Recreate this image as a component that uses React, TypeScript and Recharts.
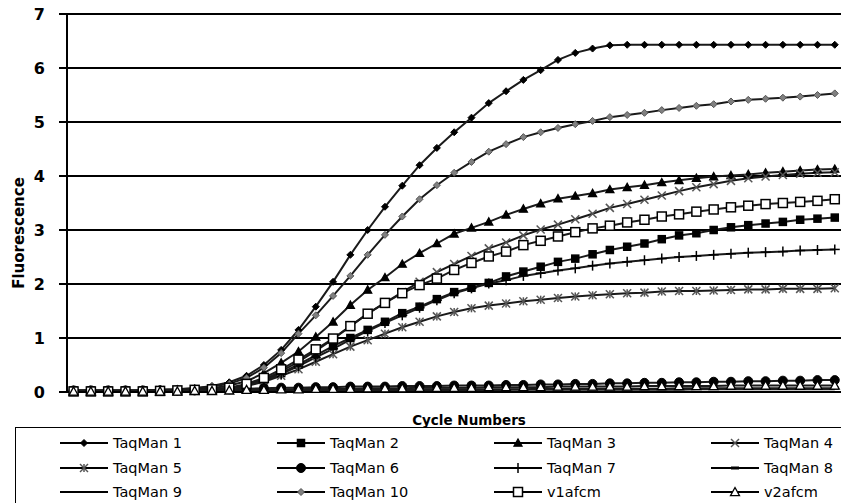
import { LineChart, Line, XAxis, YAxis, CartesianGrid } from "recharts";

const cycles = [
  1, 2, 3, 4, 5, 6, 7, 8, 9, 10, 11, 12, 13, 14, 15, 16, 17, 18, 19, 20, 21, 22, 23,
  24, 25, 26, 27, 28, 29, 30, 31, 32, 33, 34, 35, 36, 37, 38, 39, 40, 41, 42, 43, 44, 45,
];
const yTicks = [0, 1, 2, 3, 4, 5, 6, 7];

const taqman1 = [
  0.03, 0.03, 0.03, 0.03, 0.03, 0.04, 0.05, 0.07, 0.11, 0.18, 0.3, 0.5, 0.78, 1.15, 1.58,
  2.04, 2.54, 3.0, 3.43, 3.82, 4.2, 4.52, 4.81, 5.08, 5.35, 5.57, 5.78, 5.96, 6.15, 6.28,
  6.36, 6.42, 6.43, 6.43, 6.43, 6.43, 6.43, 6.43, 6.43, 6.43, 6.43, 6.43, 6.43, 6.43, 6.43,
];
const taqman2 = [
  0.03, 0.03, 0.03, 0.03, 0.03, 0.03, 0.03, 0.04, 0.05, 0.07, 0.13, 0.22, 0.35, 0.51, 0.68,
  0.85, 1.0, 1.15, 1.3, 1.46, 1.58, 1.72, 1.85, 1.93, 2.02, 2.14, 2.23, 2.32, 2.41, 2.47,
  2.55, 2.63, 2.69, 2.75, 2.83, 2.9, 2.94, 3.0, 3.05, 3.09, 3.12, 3.15, 3.19, 3.21, 3.23,
];
const taqman3 = [
  0.02, 0.02, 0.02, 0.02, 0.02, 0.03, 0.04, 0.05, 0.07, 0.12, 0.2, 0.35, 0.54, 0.75, 1.02,
  1.3, 1.61, 1.89, 2.12, 2.37, 2.57, 2.75, 2.93, 3.04, 3.15, 3.28, 3.39, 3.49, 3.58, 3.63,
  3.68, 3.75, 3.79, 3.83, 3.88, 3.92, 3.96, 3.99, 4.01, 4.03, 4.06, 4.08, 4.1, 4.12, 4.13,
];
const taqman4 = [
  0.02, 0.02, 0.02, 0.02, 0.02, 0.03, 0.03, 0.04, 0.05, 0.07, 0.13, 0.23, 0.38, 0.56, 0.76,
  0.98, 1.22, 1.45, 1.65, 1.85, 2.04, 2.22, 2.37, 2.52, 2.66, 2.77, 2.9, 3.01, 3.1, 3.2,
  3.3, 3.41, 3.48, 3.56, 3.64, 3.72, 3.79, 3.85, 3.91, 3.96, 3.99, 4.02, 4.04, 4.06, 4.07,
];
const taqman5 = [
  0.02, 0.02, 0.02, 0.02, 0.02, 0.03, 0.03, 0.04, 0.05, 0.06, 0.11, 0.19, 0.3, 0.42, 0.56,
  0.7, 0.84, 0.96, 1.08, 1.2, 1.3, 1.4, 1.48, 1.55, 1.6, 1.64, 1.68, 1.71, 1.74, 1.77,
  1.79, 1.81, 1.83, 1.84, 1.86, 1.87, 1.87, 1.88, 1.89, 1.9, 1.9, 1.91, 1.91, 1.91, 1.92,
];
const taqman6 = [
  0.03, 0.03, 0.03, 0.03, 0.03, 0.03, 0.03, 0.03, 0.04, 0.05, 0.06, 0.07, 0.08, 0.08, 0.09,
  0.09, 0.1, 0.1, 0.1, 0.11, 0.11, 0.11, 0.12, 0.12, 0.12, 0.13, 0.13, 0.14, 0.14, 0.15,
  0.15, 0.16, 0.16, 0.17, 0.17, 0.18, 0.18, 0.19, 0.19, 0.2, 0.2, 0.21, 0.21, 0.22, 0.22,
];
const taqman7 = [
  0.02, 0.02, 0.02, 0.02, 0.02, 0.03, 0.03, 0.04, 0.05, 0.07, 0.12, 0.21, 0.33, 0.48, 0.64,
  0.8, 0.97, 1.13, 1.28, 1.42, 1.56, 1.7, 1.83, 1.92, 2.01, 2.07, 2.15, 2.2, 2.25, 2.29,
  2.34, 2.38, 2.41, 2.44, 2.47, 2.5, 2.52, 2.54, 2.56, 2.58, 2.59, 2.6, 2.62, 2.63, 2.64,
];
const taqman8 = [
  0.02, 0.02, 0.02, 0.02, 0.02, 0.02, 0.02, 0.02, 0.02, 0.03, 0.03, 0.03, 0.03, 0.03, 0.04,
  0.04, 0.04, 0.04, 0.04, 0.04, 0.05, 0.05, 0.05, 0.05, 0.05, 0.05, 0.05, 0.06, 0.06, 0.06,
  0.06, 0.06, 0.06, 0.06, 0.06, 0.07, 0.07, 0.07, 0.07, 0.07, 0.07, 0.07, 0.07, 0.07, 0.07,
];
const taqman9 = [
  0.01, 0.01, 0.01, 0.01, 0.01, 0.01, 0.01, 0.01, 0.01, 0.02, 0.02, 0.02, 0.02, 0.02, 0.02,
  0.02, 0.03, 0.03, 0.03, 0.03, 0.03, 0.03, 0.03, 0.03, 0.03, 0.04, 0.04, 0.04, 0.04, 0.04,
  0.04, 0.04, 0.04, 0.04, 0.04, 0.04, 0.05, 0.05, 0.05, 0.05, 0.05, 0.05, 0.05, 0.05, 0.05,
];
const taqman10 = [
  0.03, 0.03, 0.03, 0.03, 0.03, 0.04, 0.05, 0.07, 0.1, 0.15, 0.26, 0.45, 0.72, 1.08, 1.42,
  1.78, 2.15, 2.54, 2.91, 3.25, 3.57, 3.83, 4.06, 4.26, 4.45, 4.59, 4.72, 4.81, 4.89, 4.96,
  5.02, 5.09, 5.13, 5.17, 5.22, 5.26, 5.3, 5.33, 5.38, 5.41, 5.43, 5.45, 5.47, 5.5, 5.53,
];
const v1afcm = [
  0.01, 0.01, 0.01, 0.01, 0.01, 0.02, 0.03, 0.04, 0.05, 0.08, 0.15, 0.26, 0.42, 0.6, 0.79,
  0.99, 1.22, 1.45, 1.65, 1.83, 1.98, 2.1, 2.26, 2.39, 2.51, 2.6, 2.72, 2.8, 2.88, 2.96,
  3.03, 3.08, 3.14, 3.19, 3.25, 3.29, 3.34, 3.38, 3.42, 3.45, 3.48, 3.5, 3.52, 3.54, 3.57,
];
const v2afcm = [
  0.01, 0.01, 0.01, 0.01, 0.01, 0.01, 0.01, 0.02, 0.02, 0.03, 0.04, 0.04, 0.05, 0.05, 0.06,
  0.06, 0.06, 0.07, 0.07, 0.07, 0.08, 0.08, 0.08, 0.08, 0.09, 0.09, 0.09, 0.09, 0.1, 0.1,
  0.1, 0.1, 0.1, 0.11, 0.11, 0.11, 0.11, 0.11, 0.12, 0.12, 0.12, 0.12, 0.12, 0.12, 0.12,
];

type Shape = "diamond" | "square" | "triangle" | "cross" | "star" | "circle" | "plus" | "dash" | "none";

interface Series {
  key: string;
  name: string;
  values: number[];
  shape: Shape;
  size: number;
  fill: string;
  stroke: string;
}

const series: Series[] = [
  { key: "t1", name: "TaqMan 1", values: taqman1, shape: "diamond", size: 7, fill: "#000", stroke: "#000" },
  { key: "t2", name: "TaqMan 2", values: taqman2, shape: "square", size: 7, fill: "#000", stroke: "#000" },
  { key: "t3", name: "TaqMan 3", values: taqman3, shape: "triangle", size: 8, fill: "#000", stroke: "#000" },
  { key: "t4", name: "TaqMan 4", values: taqman4, shape: "cross", size: 8, fill: "none", stroke: "#555" },
  { key: "t5", name: "TaqMan 5", values: taqman5, shape: "star", size: 8, fill: "none", stroke: "#555" },
  { key: "t6", name: "TaqMan 6", values: taqman6, shape: "circle", size: 9, fill: "#000", stroke: "#000" },
  { key: "t7", name: "TaqMan 7", values: taqman7, shape: "plus", size: 10, fill: "none", stroke: "#000" },
  { key: "t8", name: "TaqMan 8", values: taqman8, shape: "dash", size: 8, fill: "none", stroke: "#000" },
  { key: "t9", name: "TaqMan 9", values: taqman9, shape: "none", size: 0, fill: "none", stroke: "#000" },
  { key: "t10", name: "TaqMan 10", values: taqman10, shape: "diamond", size: 7, fill: "#808080", stroke: "#555" },
  { key: "v1", name: "v1afcm", values: v1afcm, shape: "square", size: 9, fill: "#fff", stroke: "#000" },
  { key: "v2", name: "v2afcm", values: v2afcm, shape: "triangle", size: 9, fill: "#fff", stroke: "#000" },
];

const data = cycles.map((c, i) => {
  const row: Record<string, number> = { cycle: c };
  series.forEach((s) => {
    row[s.key] = s.values[i];
  });
  return row;
});

function Marker({ shape, x, y, size, fill, stroke }: { shape: Shape; x: number; y: number; size: number; fill: string; stroke: string }) {
  const h = size / 2;
  switch (shape) {
    case "diamond":
      return <polygon points={`${x},${y - h} ${x + h},${y} ${x},${y + h} ${x - h},${y}`} fill={fill} stroke={stroke} strokeWidth={1} />;
    case "square":
      return <rect x={x - h} y={y - h} width={size} height={size} fill={fill} stroke={stroke} strokeWidth={1.5} />;
    case "triangle":
      return <polygon points={`${x},${y - h} ${x + h},${y + h * 0.8} ${x - h},${y + h * 0.8}`} fill={fill} stroke={stroke} strokeWidth={1.3} />;
    case "circle":
      return <circle cx={x} cy={y} r={h} fill={fill} stroke={stroke} />;
    case "cross":
      return (
        <g stroke={stroke} strokeWidth={1.5}>
          <line x1={x - h} y1={y - h} x2={x + h} y2={y + h} />
          <line x1={x - h} y1={y + h} x2={x + h} y2={y - h} />
        </g>
      );
    case "star":
      return (
        <g stroke={stroke} strokeWidth={1.5}>
          <line x1={x - h} y1={y - h} x2={x + h} y2={y + h} />
          <line x1={x - h} y1={y + h} x2={x + h} y2={y - h} />
          <line x1={x} y1={y - h} x2={x} y2={y + h} />
        </g>
      );
    case "plus":
      return (
        <g stroke={stroke} strokeWidth={1.5}>
          <line x1={x} y1={y - h} x2={x} y2={y + h} />
          <line x1={x - h} y1={y} x2={x + h} y2={y} />
        </g>
      );
    case "dash":
      return <line x1={x - h} y1={y} x2={x + h} y2={y} stroke={stroke} strokeWidth={3} />;
    default:
      return null;
  }
}

function LegendBox() {
  return (
    <div
      style={{
        position: "absolute",
        left: 15,
        top: 427,
        width: 900,
        height: 100,
        border: "1px solid #000",
        background: "#fff",
        boxSizing: "border-box",
        paddingLeft: 44,
        paddingTop: 3,
        display: "grid",
        gridTemplateColumns: "217px 217px 217px 217px",
        gridAutoRows: "24.5px",
        fontFamily: "'DejaVu Sans', sans-serif",
        fontSize: 14.5,
        color: "#000",
      }}
    >
      {series.map((s) => (
        <div key={s.key} style={{ display: "flex", alignItems: "center" }}>
          <svg width={48} height={14} style={{ marginRight: 5 }}>
            <line x1={0} y1={7} x2={48} y2={7} stroke="#000" strokeWidth={2} />
            <Marker shape={s.shape} x={24} y={7} size={s.size} fill={s.fill} stroke={s.stroke} />
          </svg>
          <span>{s.name}</span>
        </div>
      ))}
    </div>
  );
}

export default function App() {
  return (
    <div style={{ position: "absolute", left: 0, top: 0, width: 841, height: 503, overflow: "hidden", background: "#fff" }}>
      <LineChart width={841} height={503} data={data} margin={{ top: 14, right: 0, left: 7, bottom: 81 }}>
        <CartesianGrid vertical={false} stroke="#000" strokeWidth={2} />
        <XAxis
          type="number"
          dataKey="cycle"
          domain={[0.62, 45.36]}
          allowDataOverflow
          tick={false}
          tickLine={false}
          axisLine={{ stroke: "#000", strokeWidth: 2 }}
          height={30}
          label={(props: any) => {
            const vb = props.viewBox;
            return (
              <text
                x={vb.x + vb.width / 2 + 15}
                y={vb.y + 33}
                textAnchor="middle"
                fontFamily="'DejaVu Sans', sans-serif"
                fontWeight="bold"
                fontSize={13.5}
                fill="#000"
              >
                Cycle Numbers
              </text>
            );
          }}
        />
        <YAxis
          domain={[0, 7]}
          ticks={yTicks}
          width={60}
          axisLine={{ stroke: "#000", strokeWidth: 2 }}
          tickLine={{ stroke: "#000", strokeWidth: 2 }}
          tickSize={8}
          tickMargin={14}
          tick={{ fill: "#000", fontSize: 16, fontWeight: "bold", fontFamily: "'DejaVu Sans', sans-serif" }}
          label={(props: any) => {
            const vb = props.viewBox;
            const cx = vb.x + 12;
            const cy = vb.y + vb.height / 2 + 30;
            return (
              <text
                x={cx}
                y={cy}
                transform={`rotate(-90, ${cx}, ${cy})`}
                textAnchor="middle"
                dominantBaseline="central"
                fontFamily="'DejaVu Sans', sans-serif"
                fontWeight="bold"
                fontSize={15}
                fill="#000"
              >
                Fluorescence
              </text>
            );
          }}
        />
        {series.map((s) => (
          <Line
            key={s.key}
            type="linear"
            dataKey={s.key}
            name={s.name}
            stroke="#1a1a1a"
            strokeWidth={2}
            isAnimationActive={false}
            dot={
              s.shape === "none"
                ? false
                : (p: any) => (
                    <g key={`${s.key}-${p.index}`}>
                      <Marker shape={s.shape} x={p.cx} y={p.cy} size={s.size} fill={s.fill} stroke={s.stroke} />
                    </g>
                  )
            }
            activeDot={false}
          />
        ))}
      </LineChart>
      <LegendBox />
    </div>
  );
}
